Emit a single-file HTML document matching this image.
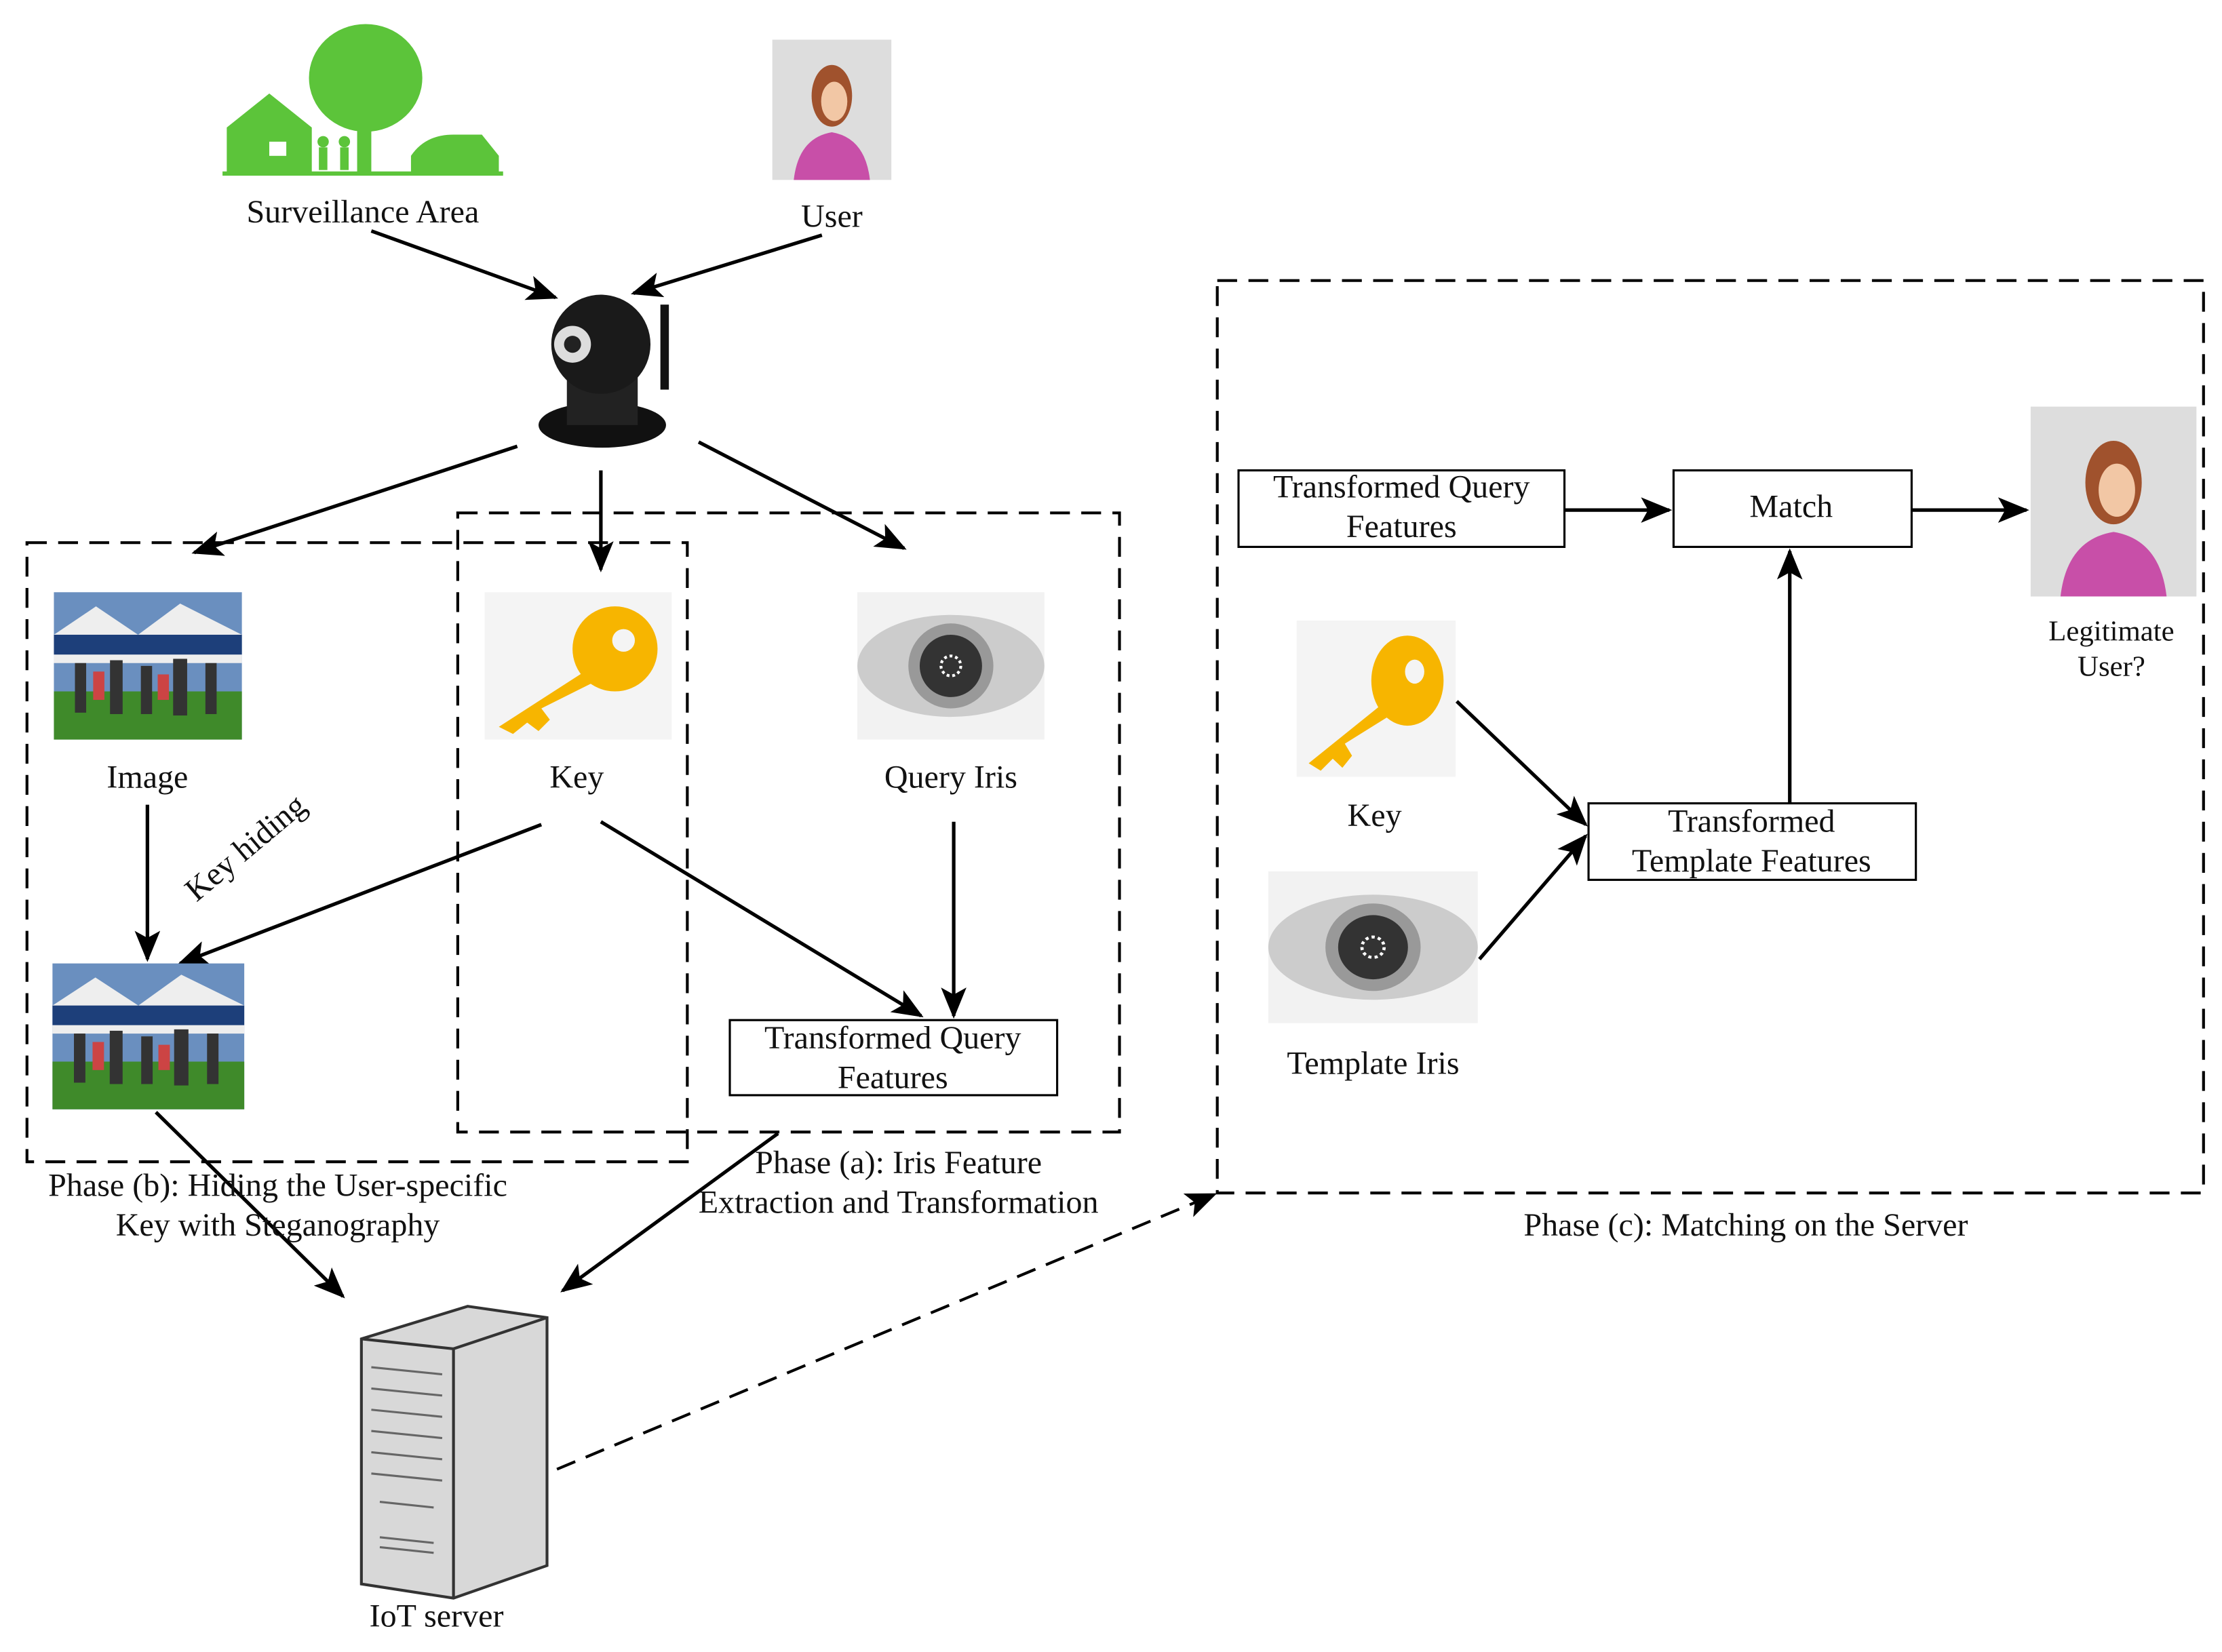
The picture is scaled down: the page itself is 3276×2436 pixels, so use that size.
<!DOCTYPE html>
<html><head><meta charset="utf-8"><style>
html,body{margin:0;padding:0;background:#fff;}
svg{display:block}
text{font-family:"Liberation Serif",serif;font-size:23px;fill:#111;}
</style></head><body>
<svg width="3276" height="2436" viewBox="0 0 1568 1166" xmlns="http://www.w3.org/2000/svg">
<defs>
<marker id="ahb" markerWidth="22" markerHeight="18" refX="20" refY="9" orient="auto" markerUnits="userSpaceOnUse" viewBox="0 0 22 18">
<path d="M0,0 L22,9 L0,18 L5,9 z" fill="#000"/></marker>
<g id="person">
<rect width="100" height="100" fill="#ddd"/>
<ellipse cx="50" cy="40" rx="17" ry="22" fill="#a0522d"/>
<ellipse cx="52" cy="44" rx="11" ry="14" fill="#f2c7a5"/>
<path d="M18,100 Q22,70 50,66 Q78,70 82,100 z" fill="#c84fa8"/>
</g>
<g id="key">
<rect width="132" height="104" fill="#f4f4f4"/>
<circle cx="92" cy="40" r="30" fill="#f7b500"/>
<circle cx="98" cy="34" r="8" fill="#f4f4f4"/>
<path d="M72,55 L10,95 L20,100 L30,92 L38,98 L46,90 L40,82 L80,62 z" fill="#f7b500"/>
</g>
<g id="eye">
<rect width="132" height="104" fill="#f2f2f2"/>
<ellipse cx="66" cy="52" rx="66" ry="36" fill="#ccc"/>
<circle cx="66" cy="52" r="30" fill="#999"/>
<circle cx="66" cy="52" r="22" fill="#333"/>
<circle cx="66" cy="52" r="7" fill="none" stroke="#fff" stroke-width="2" stroke-dasharray="2,2"/>
</g>
<g id="crowd">
<rect width="134" height="104" fill="#6a8fbf"/>
<rect y="70" width="134" height="34" fill="#3f8a2a"/>
<path d="M0,30 L30,10 L60,30 L90,8 L134,30 L134,50 L0,50 z" fill="#eee"/>
<rect y="30" width="134" height="14" fill="#1d3f7a"/>
<g fill="#333"><rect x="15" y="50" width="8" height="35"/><rect x="40" y="48" width="9" height="38"/><rect x="62" y="52" width="8" height="34"/><rect x="85" y="47" width="10" height="40"/><rect x="108" y="50" width="8" height="36"/></g>
<g fill="#c44"><rect x="28" y="56" width="8" height="20"/><rect x="74" y="58" width="8" height="18"/></g>
</g>
</defs>

<g fill="#5cc43a">
<path d="M160,90 L190,66 L220,90 L220,122 L160,122 z"/>
<ellipse cx="258" cy="55" rx="40" ry="38"/>
<rect x="252" y="70" width="10" height="52"/>
<path d="M290,110 Q300,95 320,95 L340,95 L352,110 L352,122 L290,122 z"/>
<rect x="157" y="121" width="198" height="3"/>
<circle cx="228" cy="100" r="4"/><rect x="225" y="104" width="6" height="16"/>
<circle cx="243" cy="100" r="4"/><rect x="240" y="104" width="6" height="16"/>
</g>
<rect x="190" y="100" width="12" height="10" fill="#fff"/>
<text x="256" y="157" text-anchor="middle">Surveillance Area</text>

<use href="#person" transform="translate(545,28) scale(0.84,0.99)"/>
<text x="587" y="160" text-anchor="middle">User</text>

<line x1="262" y1="163" x2="392" y2="210" stroke="#000" stroke-width="2.5" marker-end="url(#ahb)"/>
<line x1="580" y1="166" x2="447" y2="207" stroke="#000" stroke-width="2.5" marker-end="url(#ahb)"/>

<rect x="466" y="215" width="6" height="60" fill="#111"/>
<ellipse cx="425" cy="300" rx="45" ry="16" fill="#111"/>
<rect x="400" y="255" width="50" height="45" fill="#222"/>
<circle cx="424" cy="243" r="35" fill="#1a1a1a"/>
<circle cx="404" cy="243" r="13" fill="#ddd"/>
<circle cx="404" cy="243" r="6" fill="#222"/>

<line x1="365" y1="315" x2="137" y2="390" stroke="#000" stroke-width="2.5" marker-end="url(#ahb)"/>
<line x1="424" y1="332" x2="424" y2="402" stroke="#000" stroke-width="2.5" marker-end="url(#ahb)"/>
<line x1="493" y1="312" x2="638" y2="387" stroke="#000" stroke-width="2.5" marker-end="url(#ahb)"/>

<rect x="19" y="383" width="466" height="437" fill="none" stroke="#000" stroke-width="2" stroke-dasharray="14,8"/>
<rect x="323" y="362" width="467" height="437" fill="none" stroke="#000" stroke-width="2" stroke-dasharray="14,8"/>
<rect x="859" y="198" width="696" height="644" fill="none" stroke="#000" stroke-width="2" stroke-dasharray="14,8"/>

<use href="#crowd" transform="translate(38,418) scale(0.99,1)"/>
<text x="104" y="556" text-anchor="middle">Image</text>
<use href="#key" transform="translate(342,418)"/>
<text x="407" y="556" text-anchor="middle">Key</text>
<use href="#eye" transform="translate(605,418)"/>
<text x="671" y="556" text-anchor="middle">Query Iris</text>

<line x1="104" y1="568" x2="104" y2="677" stroke="#000" stroke-width="2.5" marker-end="url(#ahb)"/>
<text x="178" y="604" text-anchor="middle" transform="rotate(-40 178 604)">Key hiding</text>
<line x1="382" y1="582" x2="127" y2="680" stroke="#000" stroke-width="2.5" marker-end="url(#ahb)"/>
<line x1="424" y1="580" x2="650" y2="717" stroke="#000" stroke-width="2.5" marker-end="url(#ahb)"/>
<line x1="673" y1="580" x2="673" y2="717" stroke="#000" stroke-width="2.5" marker-end="url(#ahb)"/>

<rect x="515" y="720" width="231" height="53" fill="#fff" stroke="#000" stroke-width="1.5"/>
<text x="630" y="740" text-anchor="middle">Transformed Query</text>
<text x="630" y="768" text-anchor="middle">Features</text>

<use href="#crowd" transform="translate(37,680) scale(1.01,0.99)"/>

<line x1="110" y1="785" x2="242" y2="915" stroke="#000" stroke-width="2.5" marker-end="url(#ahb)"/>
<line x1="549" y1="800" x2="397" y2="911" stroke="#000" stroke-width="2.5" marker-end="url(#ahb)"/>

<text x="196" y="844" text-anchor="middle">Phase (b): Hiding the User-specific</text>
<text x="196" y="872" text-anchor="middle">Key with Steganography</text>
<text x="634" y="828" text-anchor="middle">Phase (a): Iris Feature</text>
<text x="634" y="856" text-anchor="middle">Extraction and Transformation</text>

<path d="M255,945 L330,922 L386,930 L386,1105 L320,1128 L255,1118 z" fill="#d8d8d8" stroke="#333" stroke-width="2"/>
<path d="M255,945 L320,952 L386,930" fill="none" stroke="#333" stroke-width="2"/>
<line x1="320" y1="952" x2="320" y2="1128" stroke="#333" stroke-width="2"/>
<g fill="none" stroke="#666" stroke-width="1.5">
<path d="M262,965 L312,970 M262,980 L312,985 M262,995 L312,1000 M262,1010 L312,1015 M262,1025 L312,1030 M262,1040 L312,1045"/>
<path d="M268,1060 L306,1064 M268,1085 L306,1089 M268,1092 L306,1096"/>
</g>
<text x="308" y="1148" text-anchor="middle">IoT server</text>

<line x1="393" y1="1037" x2="857" y2="843" stroke="#000" stroke-width="2" stroke-dasharray="14,8" marker-end="url(#ahb)"/>
<text x="1232" y="872" text-anchor="middle">Phase (c): Matching on the Server</text>

<rect x="874" y="332" width="230" height="54" fill="#fff" stroke="#000" stroke-width="1.5"/>
<text x="989" y="351" text-anchor="middle">Transformed Query</text>
<text x="989" y="379" text-anchor="middle">Features</text>
<line x1="1104" y1="360" x2="1178" y2="360" stroke="#000" stroke-width="2.5" marker-end="url(#ahb)"/>
<rect x="1181" y="332" width="168" height="54" fill="#fff" stroke="#000" stroke-width="1.5"/>
<text x="1264" y="365" text-anchor="middle">Match</text>
<line x1="1349" y1="360" x2="1430" y2="360" stroke="#000" stroke-width="2.5" marker-end="url(#ahb)"/>

<use href="#person" transform="translate(1433,287) scale(1.17,1.34)"/>
<text x="1490" y="452" text-anchor="middle" style="font-size:20.5px">Legitimate</text>
<text x="1490" y="477" text-anchor="middle" style="font-size:20.5px">User?</text>

<use href="#key" transform="translate(915,438) scale(0.85,1.06)"/>
<text x="970" y="583" text-anchor="middle">Key</text>
<use href="#eye" transform="translate(895,615) scale(1.12,1.03)"/>
<text x="969" y="758" text-anchor="middle">Template Iris</text>

<rect x="1121" y="567" width="231" height="54" fill="#fff" stroke="#000" stroke-width="1.5"/>
<text x="1236" y="587" text-anchor="middle">Transformed</text>
<text x="1236" y="615" text-anchor="middle">Template Features</text>

<line x1="1028" y1="495" x2="1119" y2="582" stroke="#000" stroke-width="2.5" marker-end="url(#ahb)"/>
<line x1="1044" y1="677" x2="1119" y2="590" stroke="#000" stroke-width="2.5" marker-end="url(#ahb)"/>
<line x1="1263" y1="567" x2="1263" y2="389" stroke="#000" stroke-width="2.5" marker-end="url(#ahb)"/>
</svg>
</body></html>
